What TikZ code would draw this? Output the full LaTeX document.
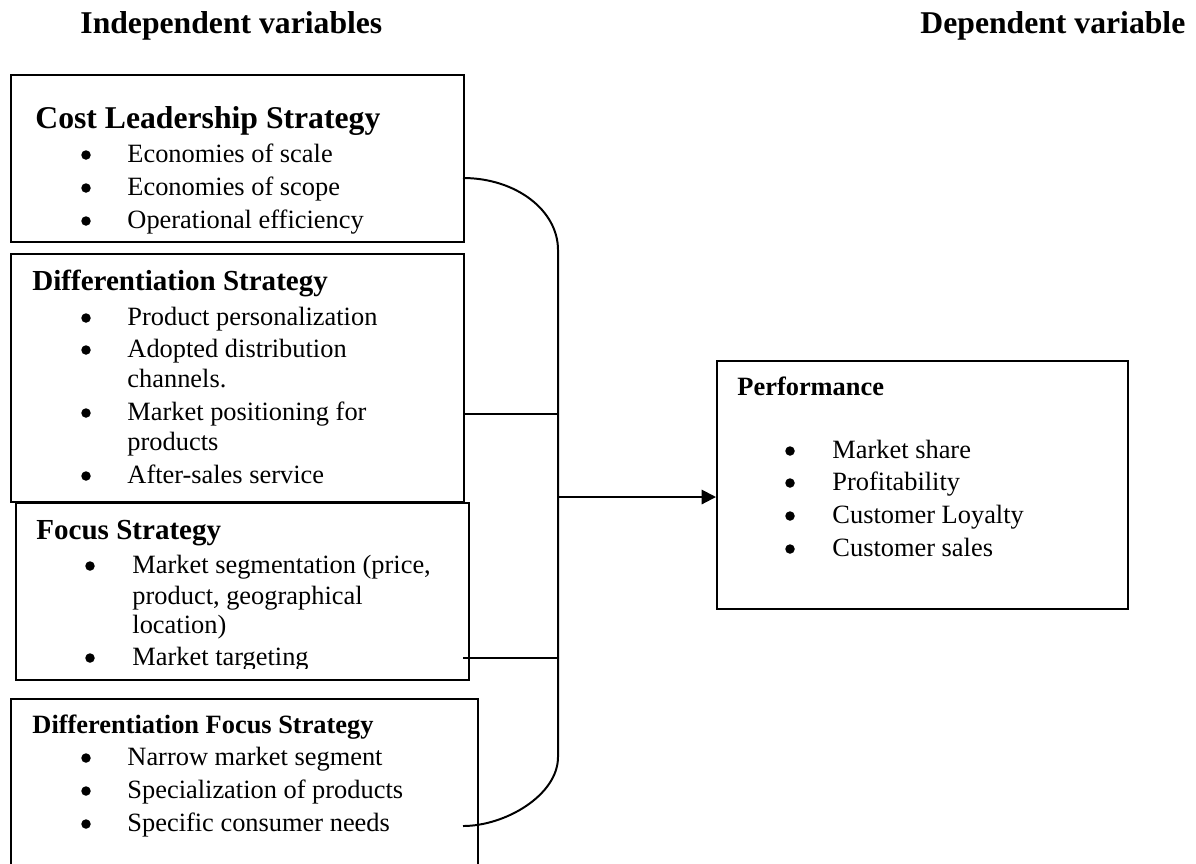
\documentclass[tikz,border=0pt]{standalone}
\usepackage{fontspec}
\setmainfont{Liberation Serif}
\usetikzlibrary{arrows.meta}
\def\pxunit{0.454545pt}
\begin{document}
\begin{tikzpicture}[x=0.454545pt,y=-0.454545pt,
  box/.style={draw, line width=0.9pt, inner sep=0pt, anchor=north west},
  bigtitle/.style={anchor=base west, inner sep=0pt, font=\fontsize{14.4}{17}\selectfont\bfseries},
  midtitle/.style={anchor=base west, inner sep=0pt, font=\fontsize{13.2}{16}\selectfont\bfseries},
  smalltitle/.style={anchor=base west, inner sep=0pt, font=\fontsize{12}{14}\selectfont\bfseries},
  item/.style={anchor=base west, inner sep=0pt, font=\fontsize{12}{14}\selectfont},
  dot/.style={circle, fill=black, inner sep=0pt, minimum size=9.5*\pxunit, yshift=7*\pxunit},
  conn/.style={line width=0.9pt}]
\useasboundingbox (0,0) rectangle (1196,863);
\clip (0,0) rectangle (1196,863);

% headings
\node[bigtitle] (hind) at (80,33) {Independent variables};
\node[bigtitle] (hdep) at (920,33) {Dependent variable};

% boxes
\node[box, minimum width=453*\pxunit, minimum height=167*\pxunit] (b1) at (10,74) {};
\node[box, minimum width=453*\pxunit, minimum height=248*\pxunit] (b2) at (10,253) {};
\node[box, minimum width=453*\pxunit, minimum height=177*\pxunit] (b3) at (15,502) {};
\node[box, minimum width=467*\pxunit, minimum height=220*\pxunit] (b4) at (10,698) {};
\node[box, minimum width=411*\pxunit, minimum height=248*\pxunit] (perf) at (716,360) {};

% box 1
\node[bigtitle] (t1) at (35,128) {Cost Leadership Strategy};
\node[dot] (d11) at (86,162) {}; \node[item] (i11) at (127,162) {Economies of scale};
\node[dot] (d12) at (86,195) {}; \node[item] (i12) at (127,195) {Economies of scope};
\node[dot] (d13) at (86,228) {}; \node[item] (i13) at (127,228) {Operational efficiency};

% box 2
\node[midtitle] (t2) at (32,290) {Differentiation Strategy};
\node[dot] (d21) at (86,325) {}; \node[item] (i21) at (127,325) {Product personalization};
\node[dot] (d22) at (86,357) {}; \node[item] (i22) at (127,357) {Adopted distribution};
\node[item] (i22b) at (127,387) {channels.};
\node[dot] (d23) at (86,420) {}; \node[item] (i23) at (127,420) {Market positioning for};
\node[item] (i23b) at (127,450) {products};
\node[dot] (d24) at (86,483) {}; \node[item] (i24) at (127,483) {After-sales service};

% box 3
\node[midtitle] (t3) at (36,539) {Focus Strategy};
\node[dot] (d31) at (90,573) {}; \node[item] (i31) at (132,573) {Market segmentation (price,};
\node[item] (i31b) at (132,604) {product, geographical};
\node[item] (i31c) at (132,633) {location)};
\begin{scope}
\clip (15,502) rectangle (468,668);
\node[dot] (d32) at (90,665) {}; \node[item] (i32) at (132,665) {Market targeting};
\end{scope}

% box 4
\node[smalltitle] (t4) at (32,733) {Differentiation Focus Strategy};
\node[dot] (d41) at (86,765) {}; \node[item] (i41) at (127,765) {Narrow market segment};
\node[dot] (d42) at (86,798) {}; \node[item] (i42) at (127,798) {Specialization of products};
\node[dot] (d43) at (86,831) {}; \node[item] (i43) at (127,831) {Specific consumer needs};

% performance
\node[smalltitle] (tp) at (737,395) {Performance};
\node[dot] (dp1) at (790,458) {}; \node[item] (ip1) at (832,458) {Market share};
\node[dot] (dp2) at (790,490) {}; \node[item] (ip2) at (832,490) {Profitability};
\node[dot] (dp3) at (790,523) {}; \node[item] (ip3) at (832,523) {Customer Loyalty};
\node[dot] (dp4) at (790,556) {}; \node[item] (ip4) at (832,556) {Customer sales};

% connectors
\coordinate (s1) at (463,178);
\coordinate (s2) at (463,414);
\coordinate (s3) at (463,658);
\coordinate (s4) at (463,826);
\coordinate (vtop) at (558,250);
\coordinate (vbot) at (558,757);
\coordinate (j2) at (558,414);
\coordinate (j3) at (558,658);
\coordinate (ja) at (558,497);

\draw[conn] (s1) .. controls (515.5,178) and (558,210) .. (vtop)
  -- (vbot) .. controls (558,795) and (505.5,826) .. (s4);
\draw[conn] (s2) -- (j2);
\draw[conn] (s3) -- (j3);
\draw[conn, -{Triangle[length=6.5pt,width=6.5pt]}] (ja) -- (ja -| perf.west);
\end{tikzpicture}
\end{document}
